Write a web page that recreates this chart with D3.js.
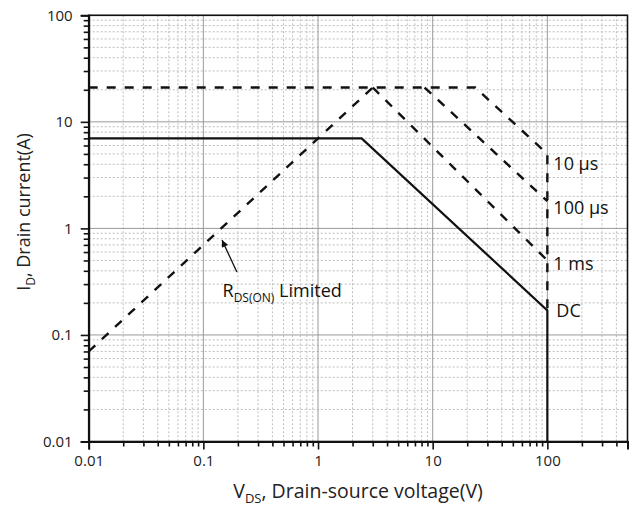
<!DOCTYPE html>
<html>
<head>
<meta charset="utf-8">
<script src="https://cdn.jsdelivr.net/npm/d3@7"></script>
<style>
  body { margin: 0; background: #fff; }
  svg { font-family: "Open Sans", "Noto Sans", sans-serif; }
</style>
</head>
<body>
<svg width="632" height="506"></svg>
<script>
// safe operating area curves (V, A)
const dcV = [0.01, 2.4, 100, 100]
const dcI = [7, 7, 0.17, 0.01]
const us10V = [0.01, 23.5, 100, 100]
const us10I = [21, 21, 5, 0.17]
const rdsV = [0.01, 3]
const rdsI = [0.07, 21]
const us100V = [8.5, 100]
const us100I = [21, 1.8]
const ms1V = [3, 100]
const ms1I = [21, 0.5]

const xTicks = [0.01, 0.1, 1, 10, 100]
const xTickLabels = ["0.01", "0.1", "1", "10", "100"]
const yTicks = [0.01, 0.1, 1, 10, 100]
const yTickLabels = ["0.01", "0.1", "1", "10", "100"]

const curveNames = ["10 µs", "100 µs", "1 ms", "DC"]
const curveLabelI = [3.55, 1.37, 0.41, 0.146]

const svg = d3.select("svg")
const pLeft = 88.7, pRight = 627.5, pTop = 15.3, pBottom = 441.5

const x = d3.scaleLog().domain([0.01, 500]).range([pLeft, pRight])
const y = d3.scaleLog().domain([0.01, 100]).range([pBottom, pTop])

// minor values 2..9 for every decade
function minors(lo, hi) {
  const out = []
  for (let d = lo; d < hi; d *= 10) {
    for (let k = 2; k <= 9; k++) {
      const v = d * k
      if (v <= hi * 1.0001) out.push(v)
    }
  }
  return out
}
const xMinor = minors(0.01, 500)
const yMinor = minors(0.01, 100)

// grid
const grid = svg.append("g")
grid.selectAll(".xm").data(xMinor).enter().append("line")
  .attr("x1", d => x(d)).attr("x2", d => x(d))
  .attr("y1", pTop).attr("y2", pBottom)
  .attr("stroke", "#bdbdbd").attr("stroke-dasharray", "2,2")
grid.selectAll(".ym").data(yMinor).enter().append("line")
  .attr("y1", d => y(d)).attr("y2", d => y(d))
  .attr("x1", pLeft).attr("x2", pRight)
  .attr("stroke", "#bdbdbd").attr("stroke-dasharray", "2,2")
grid.selectAll(".xM").data(xTicks).enter().append("line")
  .attr("x1", d => x(d)).attr("x2", d => x(d))
  .attr("y1", pTop).attr("y2", pBottom)
  .attr("stroke", "#9a9a9a")
grid.selectAll(".yM").data(yTicks).enter().append("line")
  .attr("y1", d => y(d)).attr("y2", d => y(d))
  .attr("x1", pLeft).attr("x2", pRight)
  .attr("stroke", "#9a9a9a")

// frame
svg.append("rect")
  .attr("x", pLeft).attr("y", pTop)
  .attr("width", pRight - pLeft).attr("height", pBottom - pTop)
  .attr("fill", "none").attr("stroke", "#111").attr("stroke-width", 1.6)

// axes
const xAxis = svg.append("g").attr("transform", `translate(0,${pBottom})`)
xAxis.call(d3.axisBottom(x).tickValues(xMinor).tickSize(5).tickFormat(""))
xAxis.call(g => g.select(".domain").remove())
const xAxis2 = svg.append("g").attr("transform", `translate(0,${pBottom})`)
  .call(d3.axisBottom(x).tickValues(xTicks).tickSize(8).tickPadding(6)
    .tickFormat((d, i) => xTickLabels[i]))
xAxis2.select(".domain").attr("stroke-width", 2).attr("stroke", "#111")

const yAxis = svg.append("g").attr("transform", `translate(${pLeft},0)`)
yAxis.call(d3.axisLeft(y).tickValues(yMinor).tickSize(5).tickFormat(""))
yAxis.call(g => g.select(".domain").remove())
const yAxis2 = svg.append("g").attr("transform", `translate(${pLeft},0)`)
  .call(d3.axisLeft(y).tickValues(yTicks).tickSize(8).tickPadding(8)
    .tickFormat((d, i) => yTickLabels[i]))
yAxis2.select(".domain").attr("stroke-width", 2).attr("stroke", "#111")

svg.selectAll(".tick line").attr("stroke", "#111").attr("stroke-width", 1.6)
svg.selectAll(".tick text").style("font-size", "15px").attr("fill", "#222")
  .style("font-family", "\"Open Sans\", sans-serif")

// curves
const line = d3.line().x(d => x(d[0])).y(d => y(d[1]))
const zipVI = (V, I) => V.map((v, i) => [v, I[i]])
const plot = svg.append("g")

plot.append("path").datum(zipVI(dcV, dcI)).attr("d", line)
  .attr("fill", "none").attr("stroke", "#111").attr("stroke-width", 2.2)

const dashed = [zipVI(us10V, us10I), zipVI(rdsV, rdsI), zipVI(us100V, us100I), zipVI(ms1V, ms1I)]
plot.selectAll(".dash").data(dashed).enter().append("path")
  .attr("d", line)
  .attr("fill", "none").attr("stroke", "#111").attr("stroke-width", 2.4)
  .attr("stroke-dasharray", "9,9")

// curve labels
svg.selectAll(".clab").data(curveNames).enter().append("text")
  .attr("x", (d, i) => x(100) + (d === "DC" ? 9 : 6))
  .attr("y", (d, i) => y(curveLabelI[i]))
  .style("font-size", "18px").attr("fill", "#111")
  .text(d => d)

// RDS(ON) annotation
const defs = svg.append("defs")
defs.append("marker").attr("id", "arr")
  .attr("viewBox", "0 -5 10 10").attr("refX", 10).attr("refY", 0)
  .attr("markerWidth", 9).attr("markerHeight", 7).attr("markerUnits", "userSpaceOnUse")
  .attr("orient", "auto")
  .append("path").attr("d", "M0,-5L10,0L0,5Z").attr("fill", "#111")

svg.append("line")
  .attr("x1", x(0.196)).attr("y1", y(0.39))
  .attr("x2", x(0.1454)).attr("y2", y(0.778))
  .attr("stroke", "#111").attr("stroke-width", 1.3)
  .attr("marker-end", "url(#arr)")

const rt = svg.append("text").attr("x", x(0.147)).attr("y", y(0.227))
  .style("font-size", "18px").attr("fill", "#111")
rt.append("tspan").text("R")
rt.append("tspan").attr("dy", 5).style("font-size", "12px").text("DS(ON)")
rt.append("tspan").attr("dy", -5).text(" Limited")

// axis titles
const xt = svg.append("text").attr("x", (pLeft + pRight) / 2).attr("y", 498)
  .attr("text-anchor", "middle").style("font-size", "19.5px").attr("fill", "#222")
xt.append("tspan").text("V")
xt.append("tspan").attr("dy", 5).style("font-size", "13px").text("DS")
xt.append("tspan").attr("dy", -5).text(", Drain-source voltage(V)")

const yt = svg.append("text")
  .attr("transform", `translate(30,212) rotate(-90)`)
  .attr("text-anchor", "middle").style("font-size", "18px").attr("fill", "#222")
yt.append("tspan").text("I")
yt.append("tspan").attr("dy", 5).style("font-size", "12px").text("D")
yt.append("tspan").attr("dy", -5).text(", Drain current(A)")
</script>
</body>
</html>
